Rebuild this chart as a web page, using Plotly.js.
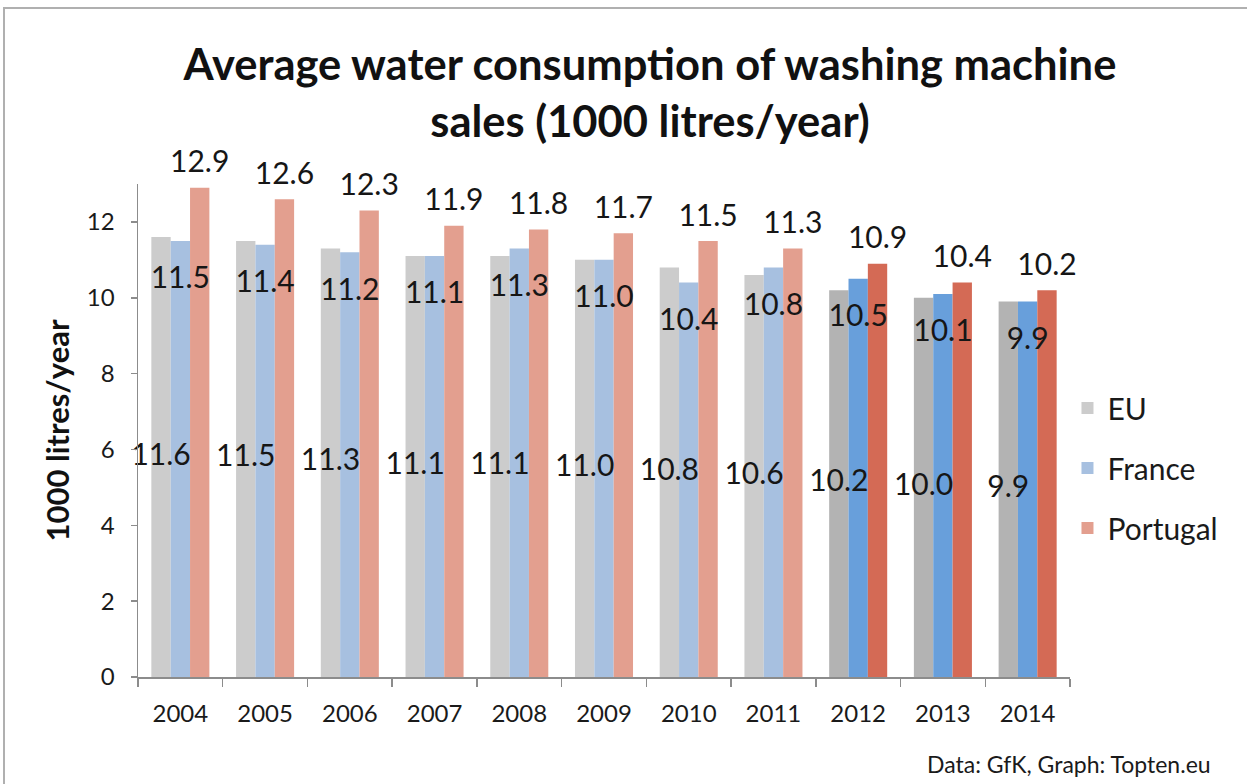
<!DOCTYPE html>
<html><head><meta charset="utf-8">
<script src="https://cdn.plot.ly/plotly-3.0.1.min.js"></script>
<style>
html,body{margin:0;padding:0;background:#fff;width:1247px;height:784px;overflow:hidden}
#frame{position:absolute;left:3px;top:7px;width:1400px;height:1000px;border:2px solid #b0b0b0;box-sizing:border-box;z-index:5;pointer-events:none}
#chart{position:absolute;left:0;top:0;width:1247px;height:784px}
</style></head><body>
<div id="chart"></div><div id="frame"></div>
<script>
// ---- data ----
const years = ['2004','2005','2006','2007','2008','2009','2010','2011','2012','2013','2014'];
const eu = [11.6, 11.5, 11.3, 11.1, 11.1, 11.0, 10.8, 10.6, 10.2, 10.0, 9.9];
const france = [11.5, 11.4, 11.2, 11.1, 11.3, 11.0, 10.4, 10.8, 10.5, 10.1, 9.9];
const portugal = [12.9, 12.6, 12.3, 11.9, 11.8, 11.7, 11.5, 11.3, 10.9, 10.4, 10.2];
const seriesNames = ['EU', 'France', 'Portugal'];
const highlightFrom = '2012';
const titleText = 'Average water consumption of washing machine<br>sales (1000 litres/year)';
const yTitle = '1000 litres/year';
const sourceText = 'Data: GfK, Graph: Topten.eu';

// ---- styles ----
const FONT = 'Lato, "Open Sans", sans-serif';
const lightColors = ['#cccccc', '#a7c0e0', '#e39f8f'];
const darkColors  = ['#b3b3b3', '#689fdb', '#d46a55'];
const startIdx = years.indexOf(highlightFrom);
const seriesVals = [eu, france, portugal];

const traces = [];
seriesVals.forEach((vals, k) => {
  traces.push({
    type: 'bar', name: seriesNames[k], x: years, y: vals,
    legendgroup: seriesNames[k],
    marker: { color: years.map((_, i) => i >= startIdx ? darkColors[k] : lightColors[k]), line: {width: 0} },
    hoverinfo: 'skip'
  });
});
// label layers (drawn above all bars), grouped like the bars
const labelFont = { family: FONT, size: 30, color: '#161616' };
const labelSpecs = [
  { y: eu.map(v => v / 2), pos: 'middle center', size: 0 },
  { y: france, pos: 'bottom center', size: 38 },
  { y: portugal, pos: 'top center', size: 11 }
];
labelSpecs.forEach((s, k) => {
  traces.push({
    type: 'scatter', mode: s.size ? 'markers+text' : 'text', x: years, y: s.y,
    orientation: 'v',
    text: seriesVals[k].map(v => v.toFixed(1)), textposition: s.pos, textfont: labelFont,
    marker: { size: s.size || 1, color: 'rgba(0,0,0,0)' },
    showlegend: false, hoverinfo: 'skip', cliponaxis: false
  });
});

const layout = {
  width: 1247, height: 784,
  paper_bgcolor: 'rgba(0,0,0,0)', plot_bgcolor: 'rgba(0,0,0,0)',
  margin: { l: 138, r: 177, t: 184, b: 107 },
  barmode: 'group', bargap: 0.315, bargroupgap: 0,
  scattermode: 'group', scattergap: 0.315,
  hovermode: false,
  font: { family: FONT, color: '#1a1a1a' },
  title: {
    text: titleText, x: 650 / 1247, xanchor: 'center', xref: 'container',
    y: 1 - 80 / 784, yanchor: 'top', yref: 'container',
    font: { family: FONT, size: 43.5, color: '#111', weight: 'bold' }
  },
  xaxis: {
    type: 'category', showline: true, linecolor: '#8c8c8c', linewidth: 1.5,
    ticks: 'outside', tickson: 'boundaries', ticklen: 8, tickcolor: '#8c8c8c', tickwidth: 1.5,
    ticklabelstandoff: 15,
    tickfont: { family: FONT, size: 24, color: '#1a1a1a' }, showgrid: false, zeroline: false
  },
  yaxis: {
    range: [0, 13], dtick: 2, showline: true, linecolor: '#8c8c8c', linewidth: 1.5,
    ticks: 'outside', ticklen: 6, tickcolor: '#8c8c8c', tickwidth: 1.5,
    ticklabelstandoff: 11,
    tickfont: { family: FONT, size: 24, color: '#1a1a1a' }, showgrid: false, zeroline: false,
    title: { text: yTitle, standoff: 8, font: { family: FONT, size: 31, color: '#111', weight: 'bold' } }
  },
  legend: {
    x: 0.9973, xanchor: 'left', y: 0.424, yanchor: 'middle',
    font: { family: FONT, size: 30, color: '#1a1a1a' },
    tracegroupgap: 18, bgcolor: 'rgba(0,0,0,0)'
  },
  annotations: [{
    text: sourceText, xref: 'paper', yref: 'paper', x: (1213 - 138) / 932, y: (677 - 764) / 493,
    xanchor: 'right', yanchor: 'middle', showarrow: false,
    font: { family: FONT, size: 23, color: '#1a1a1a' }
  }]
};
Plotly.newPlot('chart', traces, layout, { displayModeBar: false, staticPlot: true });
</script>
</body></html>
